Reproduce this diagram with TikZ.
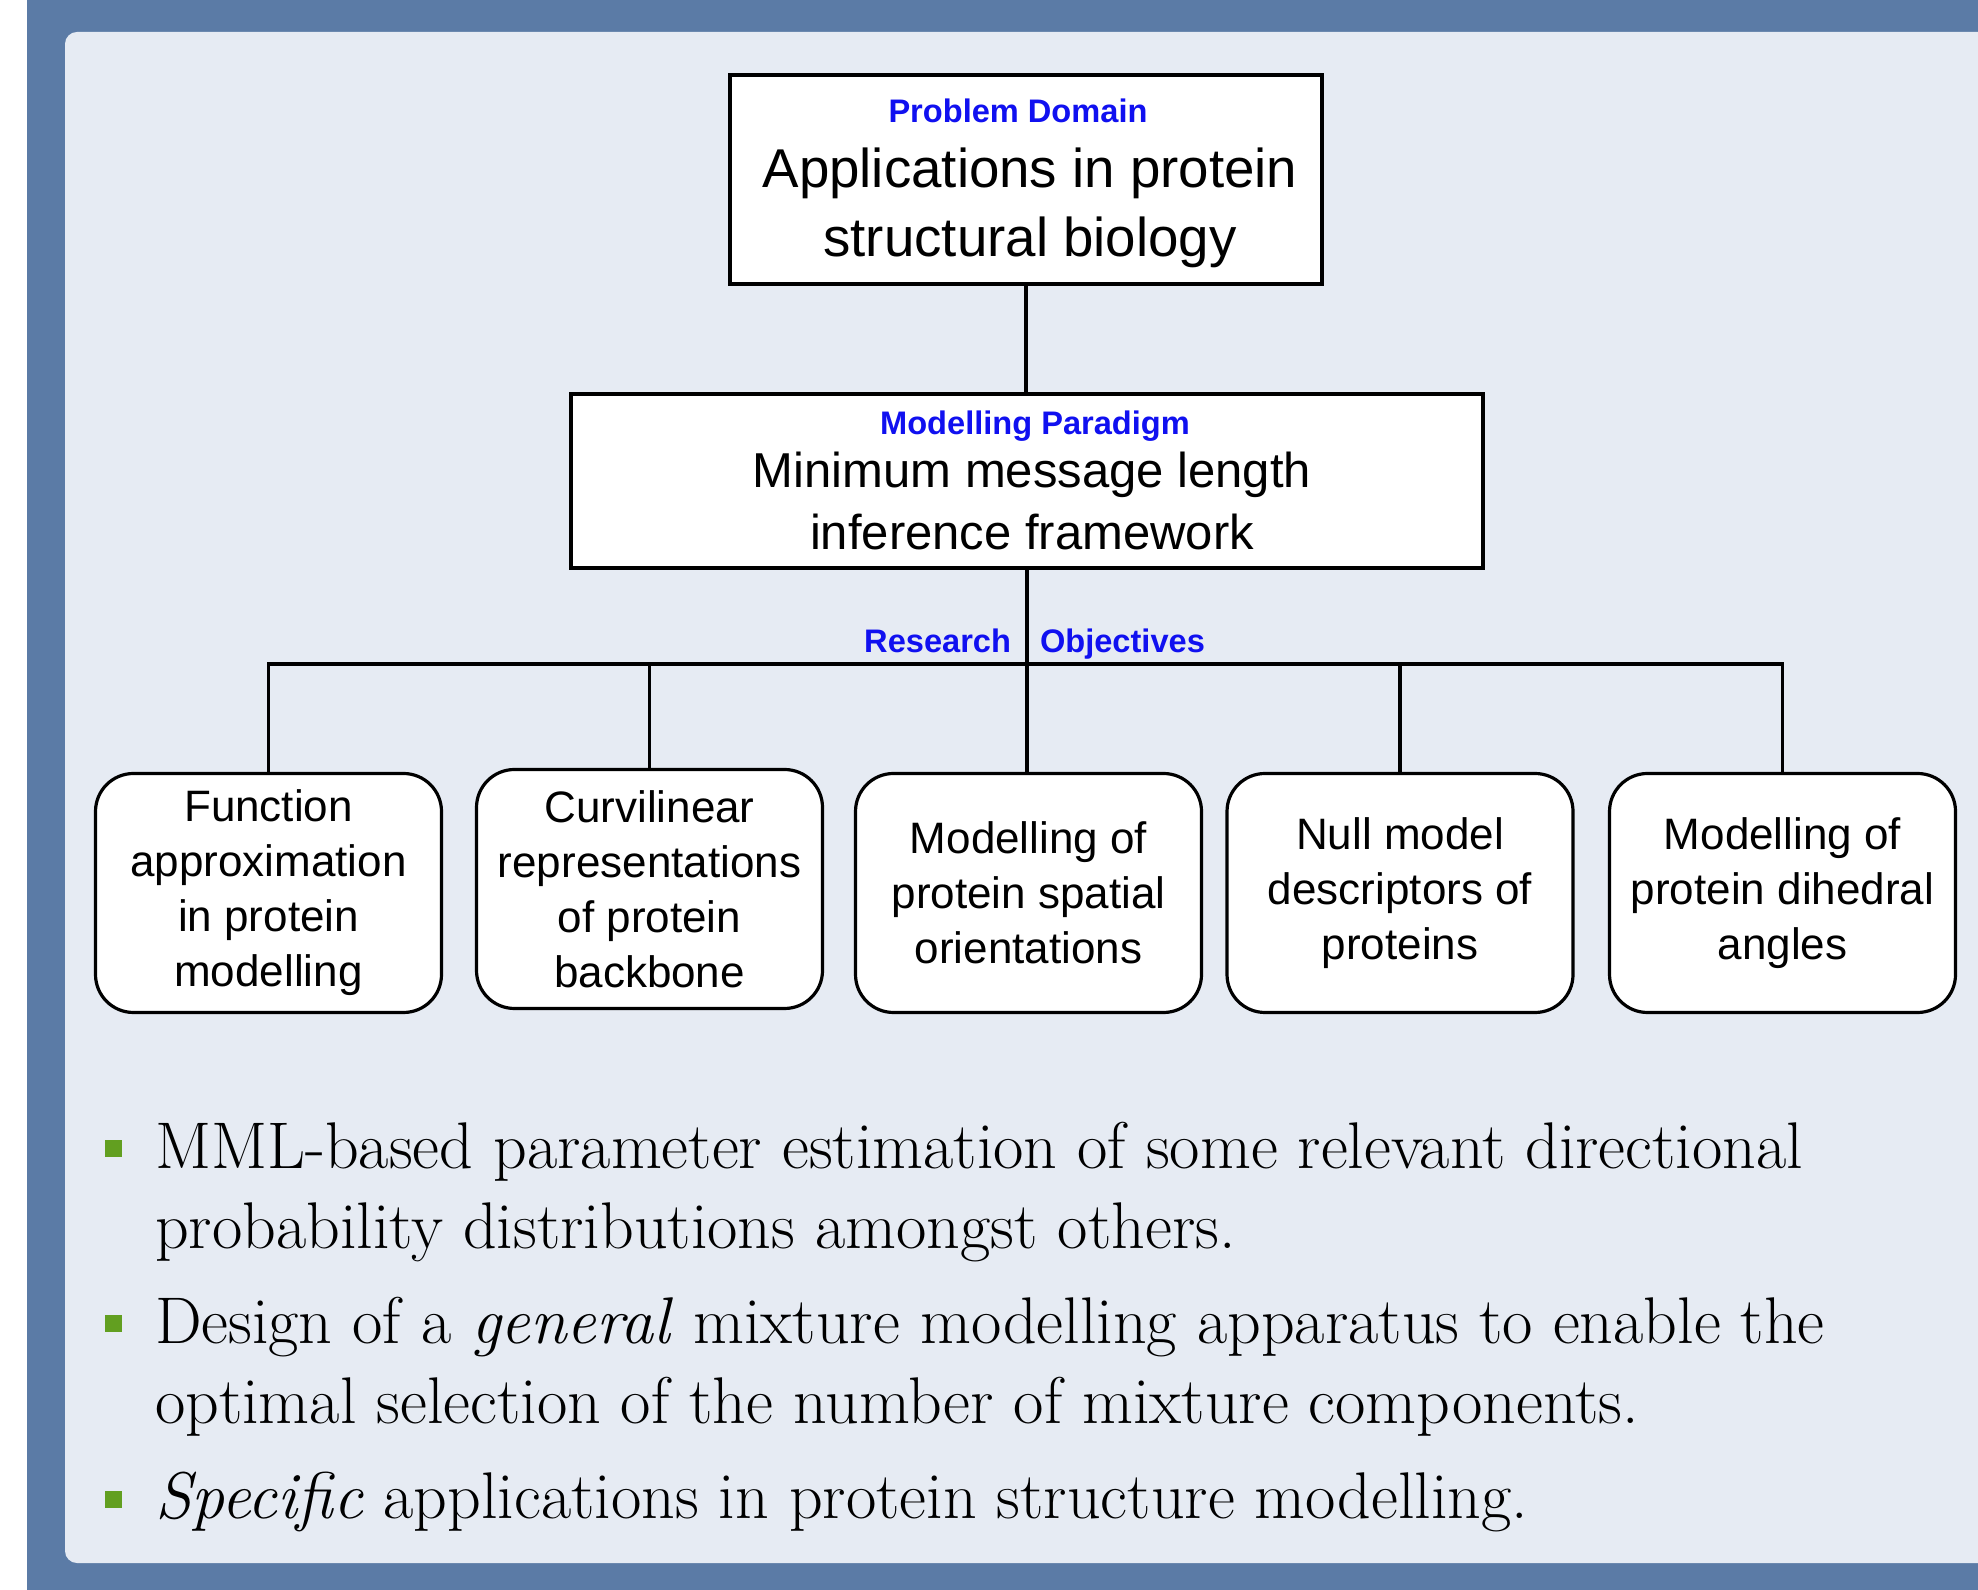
\documentclass[tikz,border=0pt]{standalone}
\usepackage{fontspec}
\newfontfamily\arialfont{Liberation Sans}
\definecolor{c5b7ba6}{RGB}{91,123,166}
\definecolor{ce6ebf3}{RGB}{230,235,243}
\definecolor{c629f20}{RGB}{98,159,32}
\definecolor{c1010f0}{RGB}{16,16,240}

\begin{document}
\begin{tikzpicture}[x=0.25pt, y=-0.25pt, inner sep=0pt, outer sep=0pt,
  link/.style={draw=black, line width=0.8pt},
  probbox/.style={draw=black, fill=white, line width=0.8pt},
  objbox/.style={draw=black, fill=white, line width=0.8pt, rounded corners=9.5pt,
    minimum width=86.5pt, minimum height=59.75pt, align=center,
    font=\arialfont\fontsize{11}{13.75}\selectfont},
  tag/.style={text=c1010f0, font=\arialfont\bfseries\fontsize{8.15}{9}\selectfont},
  headtext/.style={align=center, anchor=base},
  bulletsq/.style={fill=c629f20, minimum size=4.25pt},
  itemtext/.style={anchor=base west, align=left, font=\fontsize{16.5}{20}\selectfont}]
  % frame and panel
  \path[fill=white] (0,0) rectangle (1978,1590);
  \useasboundingbox (0,0) rectangle (1978,1590);
  \path[fill=c5b7ba6] (27,0) rectangle (1978,1590);
  \path[fill=ce6ebf3, rounded corners=3pt] (65,32) rectangle (2010,1563);

  % problem domain
  \node[probbox, minimum width=148pt, minimum height=52.25pt] (domain) at (1026,179.5) {};
  \node[tag, anchor=base] (domaintag) at (1018,123) {Problem Domain};
  \node[headtext, font=\arialfont\fontsize{13.67}{17.25}\selectfont] (domaintext) at (1030,257)
    {Applications in protein\\structural biology};

  % modelling paradigm
  \node[probbox, minimum width=228pt, minimum height=43.5pt] (paradigm) at (1027,481) {};
  \node[tag, anchor=base] (paradigmtag) at (1035,435) {Modelling Paradigm};
  \node[headtext, font=\arialfont\fontsize{12.25}{15.5}\selectfont] (paradigmtext) at (1032,550)
    {Minimum message length\\inference framework};

  % research objectives
  \node[objbox] (obj1) at (268.5,893) {Function\\approximation\\in protein\\modelling};
  \node[objbox] (obj2) at (649.5,889) {Curvilinear\\representations\\of protein\\backbone};
  \node[objbox] (obj3) at (1028.5,893) {Modelling of\\protein spatial\\orientations};
  \node[objbox] (obj4) at (1400,893) {Null model\\descriptors of\\proteins};
  \node[objbox] (obj5) at (1782.5,893) {Modelling of\\protein dihedral\\angles};
  \coordinate (hub) at (1028,664);
  \node[tag, anchor=base east] (restag) at (1011,653) {Research};
  \node[tag, anchor=base west] (objtag) at (1040,653) {Objectives};

  \draw[link] (domain.south) -- (domain.south |- paradigm.north);
  \draw[link] (paradigm.south) -- (paradigm.south |- obj3.north);
  \draw[link] (obj1.north) |- (hub) -| (obj5.north);
  \draw[link] (obj2.north) -- (obj2.north |- hub);
  \draw[link] (obj4.north) -- (obj4.north |- hub);

  % bullet list
  \node[bulletsq] (dot1) at (113.5,1148) {};
  \node[itemtext] (item1) at (155,1248)
    {MML-based parameter estimation of some relevant directional\\probability distributions amongst others.};
  \node[bulletsq] (dot2) at (113.5,1323) {};
  \node[itemtext] (item2) at (155,1423)
    {Design of a \emph{general} mixture modelling apparatus to enable the\\optimal selection of the number of mixture components.};
  \node[bulletsq] (dot3) at (113.5,1499) {};
  \node[itemtext] (item3) at (155,1518)
    {\emph{Specific} applications in protein structure modelling.};
\end{tikzpicture}
\end{document}
